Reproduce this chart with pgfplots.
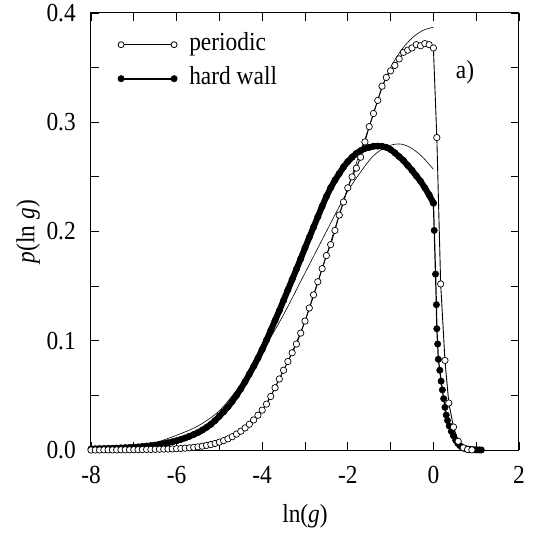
\documentclass[border=0pt]{standalone}
\usepackage{fontspec}
\setmainfont{Liberation Serif}[FakeStretch=0.9]
\usepackage{pgfplots}
\usepackage{pgfplotstable}
\pgfplotsset{compat=1.18}
\newcommand\fs{\fontsize{26}{31}\selectfont}

\pgfplotstableread{
x y
-8.0 0.0000
-7.9 0.0000
-7.8 0.0000
-7.7 0.0001
-7.6 0.0001
-7.5 0.0001
-7.4 0.0001
-7.3 0.0002
-7.2 0.0002
-7.1 0.0002
-7.0 0.0003
-6.9 0.0003
-6.8 0.0004
-6.7 0.0005
-6.6 0.0005
-6.5 0.0006
-6.4 0.0007
-6.3 0.0008
-6.2 0.0009
-6.1 0.0010
-6.0 0.0012
-5.9 0.0014
-5.8 0.0017
-5.7 0.0020
-5.6 0.0024
-5.5 0.0029
-5.4 0.0035
-5.3 0.0042
-5.2 0.0050
-5.1 0.0060
-5.0 0.0072
-4.9 0.0086
-4.8 0.0102
-4.7 0.0122
-4.6 0.0146
-4.5 0.0172
-4.4 0.0202
-4.3 0.0236
-4.2 0.0275
-4.1 0.0318
-4.0 0.0365
-3.9 0.0420
-3.8 0.0490
-3.7 0.0570
-3.6 0.0650
-3.5 0.0730
-3.4 0.0810
-3.3 0.0890
-3.2 0.0970
-3.1 0.1070
-3.0 0.1180
-2.9 0.1300
-2.8 0.1420
-2.7 0.1540
-2.6 0.1660
-2.5 0.1780
-2.4 0.1880
-2.3 0.2010
-2.2 0.2150
-2.1 0.2270
-2.0 0.2400
-1.9 0.2500
-1.8 0.2580
-1.7 0.2680
-1.6 0.2820
-1.5 0.2960
-1.4 0.3080
-1.3 0.3200
-1.2 0.3330
-1.1 0.3410
-1.0 0.3470
-0.9 0.3520
-0.8 0.3580
-0.7 0.3640
-0.6 0.3660
-0.5 0.3680
-0.4 0.3710
-0.3 0.3700
-0.2 0.3720
-0.1 0.3710
0.0 0.3680
0.08 0.2860
0.17 0.1520
0.27 0.0820
0.36 0.0430
0.47 0.0210
0.58 0.0080
0.70 0.0020
0.80 0.0005
0.90 0.0001
}\periodic

\pgfplotstableread{
x y
-8.0 0.0000
-7.0 0.0003
-6.5 0.0007
-6.0 0.0015
-5.5 0.0032
-5.0 0.0072
-4.5 0.0172
-4.0 0.0365
-3.5 0.0730
-3.0 0.1180
-2.5 0.1780
-2.0 0.2400
-1.5 0.2960
-1.25 0.3260
-1.0 0.3500
-0.75 0.3660
-0.5 0.3770
-0.25 0.3840
0.0 0.3870
}\periodicfit

\pgfplotstableread{
x y
-8.0 0.0010
-7.9 0.0011
-7.8 0.0012
-7.7 0.0013
-7.6 0.0014
-7.5 0.0015
-7.4 0.0017
-7.3 0.0019
-7.2 0.0021
-7.1 0.0023
-7.0 0.0025
-6.9 0.0028
-6.8 0.0032
-6.7 0.0036
-6.6 0.0040
-6.5 0.0045
-6.4 0.0051
-6.3 0.0058
-6.2 0.0066
-6.1 0.0075
-6.0 0.0085
-5.9 0.0097
-5.8 0.0110
-5.7 0.0125
-5.6 0.0142
-5.5 0.0160
-5.4 0.0182
-5.3 0.0207
-5.2 0.0235
-5.1 0.0270
-5.0 0.0310
-4.9 0.0350
-4.8 0.0395
-4.7 0.0445
-4.6 0.0500
-4.5 0.0560
-4.4 0.0625
-4.3 0.0695
-4.2 0.0765
-4.1 0.0840
-4.0 0.0920
-3.9 0.1005
-3.8 0.1095
-3.7 0.1185
-3.6 0.1275
-3.5 0.1370
-3.4 0.1465
-3.3 0.1560
-3.2 0.1655
-3.1 0.1750
-3.0 0.1850
-2.9 0.1945
-2.8 0.2040
-2.7 0.2135
-2.6 0.2230
-2.5 0.2320
-2.4 0.2400
-2.3 0.2470
-2.2 0.2530
-2.1 0.2590
-2.0 0.2640
-1.9 0.2680
-1.8 0.2715
-1.7 0.2740
-1.6 0.2760
-1.5 0.2770
-1.4 0.2780
-1.3 0.2782
-1.2 0.2780
-1.1 0.2770
-1.0 0.2750
-0.9 0.2720
-0.8 0.2685
-0.7 0.2650
-0.6 0.2605
-0.5 0.2560
-0.4 0.2510
-0.3 0.2460
-0.2 0.2400
-0.1 0.2335
0.0 0.2260
}\hardwall

\pgfplotstableread{
x y
0.0 0.2260
0.02 0.201
0.05 0.161
0.07 0.133
0.08 0.111
0.10 0.097
0.115 0.083
0.15 0.073
0.18 0.063
0.21 0.055
0.24 0.047
0.27 0.039
0.30 0.032
0.33 0.027
0.37 0.022
0.42 0.017
0.47 0.013
0.52 0.009
0.57 0.006
0.62 0.004
0.67 0.0025
0.72 0.0015
0.77 0.0010
0.82 0.0006
0.87 0.0004
0.92 0.0003
0.97 0.0002
1.02 0.0001
1.07 0.0001
1.12 0.0000
}\hardwalltail

\pgfplotstableread{
x y
-8.0 0.0008
-7.5 0.0016
-7.0 0.0032
-6.5 0.0068
-6.0 0.0135
-5.5 0.0220
-5.0 0.0360
-4.5 0.0600
-4.0 0.0900
-3.5 0.1240
-3.0 0.1620
-2.5 0.2000
-2.0 0.2370
-1.5 0.2650
-1.25 0.2740
-1.0 0.2790
-0.75 0.2800
-0.5 0.2760
-0.25 0.2680
0.0 0.2570
}\hardwallfit

\begin{document}
\begin{tikzpicture}
\begin{axis}[
  at={(0,0)}, anchor=south west,
  scale only axis, width=428pt, height=437pt,
  xmin=-8, xmax=2, ymin=0, ymax=0.4,
  xtick={-8,-6,-4,-2,0,2}, xticklabels={-8,-6,-4,-2,0,2},
  minor xtick={-7,-5,-3,-1,1},
  ytick={0,0.1,0.2,0.3,0.4}, yticklabels={0.0,0.1,0.2,0.3,0.4},
  minor ytick={0.05,0.15,0.25,0.35},
  tick align=inside, major tick length=8pt, minor tick length=8pt,
  tick style={line width=0.8pt, black},
  axis line style={line width=1pt},
  ticklabel style={font=\fs, inner sep=0pt},
  xticklabel style={anchor=base, yshift=-33pt},
  yticklabel style={anchor=east, xshift=-15pt},
  xlabel={ln(\textit{g})}, ylabel={\textit{p}(ln\ \textit{g})},
  label style={font=\fs},
  xlabel style={at={(axis description cs:0.5,0)}, anchor=base, yshift=-72pt},
  ylabel style={at={(axis description cs:0,0.5)}, anchor=center, yshift=63pt},
  legend cell align=left,
  legend image code/.code={\draw[#1] plot coordinates {(0pt,0pt) (53pt,0pt)};},
  legend style={at={(axis description cs:0,1)}, anchor=north west, xshift=26.7pt, yshift=-19pt,
    draw=none, fill=none, font=\fs, inner sep=0pt, row sep=9pt,
    nodes={text height=17pt, text depth=6pt, inner sep=1pt},
    /tikz/every odd column/.append style={column sep=11pt}},
]
\addlegendimage{black, line width=1.1pt, mark=*, mark size=3pt, mark options={fill=white, line width=0.8pt}}
\addlegendentry{periodic}
\addlegendimage{black, line width=1.8pt, mark=*, mark size=3.2pt, mark options={fill=black, line width=0.5pt}}
\addlegendentry{hard wall}

\addplot[black, line width=0.6pt, smooth, forget plot] table[x=x,y=y] {\hardwallfit};
\addplot[black, line width=6pt, line join=round, line cap=round, mark=*, mark size=3.2pt, mark options={fill=black, line width=0.5pt}, forget plot] table[x=x,y=y] {\hardwall};
\addplot[black, line width=1.2pt, mark=*, mark size=3.2pt, mark options={fill=black, line width=0.5pt}, forget plot] table[x=x,y=y] {\hardwalltail};
\addplot[black, line width=0.6pt, smooth, forget plot] table[x=x,y=y] {\periodicfit};
\addplot[black, line width=0.9pt, mark=*, mark size=3.2pt, mark options={fill=white, line width=0.7pt}, forget plot] table[x=x,y=y] {\periodic};
\node[font=\fs] at (axis cs:0.74,0.346) {a)};
\end{axis}
\pgfresetboundingbox
\path[use as bounding box] (-91pt,-86pt) rectangle (445pt,450pt);
\end{tikzpicture}
\end{document}
